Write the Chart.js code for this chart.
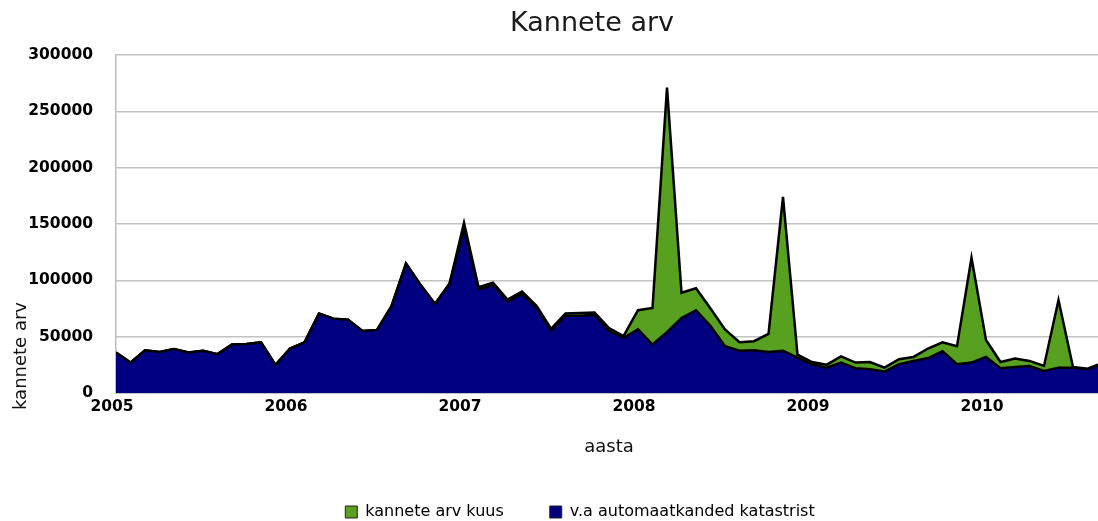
<!DOCTYPE html>
<html>
<head>
<meta charset="utf-8">
<script src="https://cdn.jsdelivr.net/npm/chart.js@4/dist/chart.umd.min.js"></script>
<style>
  html, body { margin: 0; padding: 0; overflow: hidden; background: #ffffff; }
  #wrap { position: absolute; left: 0; top: 0; width: 1102px; height: 530px; }
</style>
</head>
<body>
<div id="wrap"><canvas id="c" width="1102" height="530"></canvas></div>
<script>
// ---- data (monthly, Jan 2005 .. Sep 2010) ----
const months = [
  "2005-01","2005-02","2005-03","2005-04","2005-05","2005-06","2005-07","2005-08","2005-09","2005-10","2005-11","2005-12",
  "2006-01","2006-02","2006-03","2006-04","2006-05","2006-06","2006-07","2006-08","2006-09","2006-10","2006-11","2006-12",
  "2007-01","2007-02","2007-03","2007-04","2007-05","2007-06","2007-07","2007-08","2007-09","2007-10","2007-11","2007-12",
  "2008-01","2008-02","2008-03","2008-04","2008-05","2008-06","2008-07","2008-08","2008-09","2008-10","2008-11","2008-12",
  "2009-01","2009-02","2009-03","2009-04","2009-05","2009-06","2009-07","2009-08","2009-09","2009-10","2009-11","2009-12",
  "2010-01","2010-02","2010-03","2010-04","2010-05","2010-06","2010-07","2010-08","2010-09"
];
const kanneteArvKuus = [
  36000, 27000, 38000, 36500, 39000, 36000, 37500, 34500, 43000, 43500, 45000, 25000,
  39500, 45000, 70500, 66000, 65000, 55000, 56000, 77000, 115000, 96000, 79000, 97000,
  151000, 94000, 98000, 83000, 90000, 77500, 57000, 70500, 71000, 71500, 57500, 50500,
  73500, 75500, 271000, 89000, 93000, 75000, 56500, 45000, 46000, 52500, 174000, 34000,
  27500, 25000, 32500, 27000, 27500, 22500, 30000, 32000, 39500, 45000, 41500, 120000,
  47000, 27500, 30500, 28500, 24000, 82500, 23000, 21500, 26500
];
const vaAutomaatkanded = [
  36000, 27000, 38000, 36500, 39000, 36000, 37500, 34500, 43000, 43500, 45000, 25000,
  39500, 45000, 70500, 66000, 65000, 55000, 56000, 77000, 115000, 96000, 79000, 97000,
  146000, 92000, 96000, 81000, 88000, 75500, 55500, 68500, 68500, 69500, 55000, 49000,
  56500, 43000, 54000, 66500, 73500, 59500, 41500, 37500, 38000, 36500, 37500, 31500,
  25500, 22500, 27000, 22000, 21000, 19000, 25500, 28500, 31000, 37000, 25500, 27000,
  32000, 22000, 23000, 24000, 19500, 22500, 22500, 21000, 26000
];
const yearLabels = ["2005", "2006", "2007", "2008", "2009", "2010"];
const yearTickIndex = [0, 12, 24, 36, 48, 60];
const seriesNames = ["kannete arv kuus", "v.a automaatkanded katastrist"];
const chartTitle = "Kannete arv";
const xTitle = "aasta";
const yTitle = "kannete arv";

// ---- build ----
const toPoints = arr => arr.map((v, i) => ({ x: i, y: v }));
const FONT = "'DejaVu Sans', sans-serif";

const shiftPlugin = {
  id: 'shiftBlocks',
  afterLayout(chart) {
    if (chart.titleBlock) { chart.titleBlock.left += 41; chart.titleBlock.right += 41; }
    if (chart.legend) { chart.legend.left += 29; chart.legend.right += 29; }
  }
};
const yTitlePlugin = {
  id: 'yTitle',
  afterDraw(chart) {
    const ctx = chart.ctx;
    ctx.save();
    ctx.translate(21, 356);
    ctx.rotate(-Math.PI / 2);
    ctx.font = "18px " + FONT;
    ctx.fillStyle = "#111";
    ctx.textAlign = "center";
    ctx.textBaseline = "middle";
    ctx.fillText(yTitle, 0, 0);
    ctx.restore();
  }
};

new Chart(document.getElementById('c'), {
  type: 'line',
  data: {
    datasets: [
      {
        label: seriesNames[1],
        data: toPoints(vaAutomaatkanded),
        backgroundColor: '#000080',
        borderColor: '#000000',
        borderWidth: 2.5,
        fill: 'origin',
        pointRadius: 0,
        tension: 0
      },
      {
        label: seriesNames[0],
        data: toPoints(kanneteArvKuus),
        backgroundColor: '#58A01F',
        borderColor: '#000000',
        borderWidth: 2.5,
        fill: 'origin',
        pointRadius: 0,
        tension: 0
      }
    ]
  },
  options: {
    responsive: false,
    animation: false,
    devicePixelRatio: 1,
    layout: { padding: 0 },
    plugins: {
      tooltip: { enabled: false },
      title: {
        display: true,
        text: chartTitle,
        color: '#1a1a1a',
        font: { family: FONT, size: 27, weight: 'normal' },
        padding: { top: 8, bottom: 14.6 }
      },
      legend: {
        position: 'bottom',
        reverse: true,
        labels: {
          color: '#000',
          font: { family: FONT, size: 16 },
          boxWidth: 12,
          boxHeight: 12,
          padding: 46,
          generateLabels(chart) {
            return Chart.defaults.plugins.legend.labels.generateLabels(chart).map(l => {
              l.lineWidth = 1;
              l.strokeStyle = '#222';
              return l;
            });
          }
        }
      }
    },
    scales: {
      x: {
        type: 'linear',
        min: 0,
        max: months.length - 1,
        afterFit(s) { s.height = 65; },
        afterBuildTicks(s) { s.ticks = yearTickIndex.map(v => ({ value: v })); },
        grid: { display: false, drawTicks: false },
        border: { display: true, color: '#a8a8a8', width: 1.5 },
        ticks: {
          autoSkip: false,
          maxRotation: 0,
          padding: 5,
          labelOffset: -4,
          color: '#000',
          font: { family: FONT, size: 15.5, weight: 'bold' },
          callback(v) { const k = yearTickIndex.indexOf(v); return k >= 0 ? yearLabels[k] : ''; }
        },
        title: {
          display: true,
          text: xTitle,
          color: '#111',
          font: { family: FONT, size: 18 },
          padding: { top: 0, bottom: 0 }
        }
      },
      y: {
        min: 0,
        max: 300000,
        afterFit(s) { s.width = 116; },
        grid: { color: '#c2c2c2', lineWidth: 1.5, drawTicks: false },
        border: { display: true, color: '#bcbcbc', width: 1.5 },
        ticks: {
          stepSize: 50000,
          padding: 23,
          color: '#000',
          font: { family: FONT, size: 15.5, weight: 'bold' },
          callback(v) { return String(v); }
        }
      }
    }
  },
  plugins: [shiftPlugin, yTitlePlugin]
});
</script>
</body>
</html>
